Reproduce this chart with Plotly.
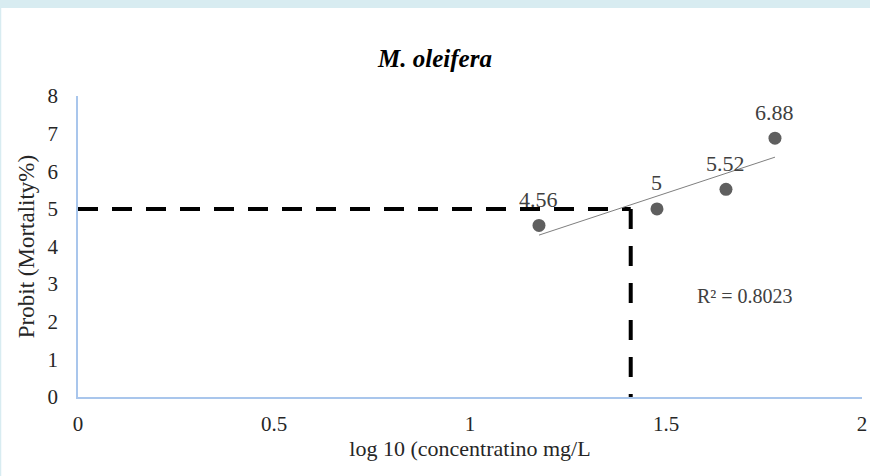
import numpy as np
import plotly.graph_objects as go

# data
log_conc = [1.176, 1.477, 1.653, 1.778]
probit = [4.56, 5.00, 5.52, 6.88]
point_labels = ["4.56", "5", "5.52", "6.88"]
lc50_log = 1.41
probit_50 = 5
r2_text = "R² = 0.8023"
x_ticks = [0, 0.5, 1, 1.5, 2]
x_tick_labels = ["0", "0.5", "1", "1.5", "2"]
y_ticks = [0, 1, 2, 3, 4, 5, 6, 7, 8]

FONT = "Liberation Serif"
W, H = 870, 476
ML, MR, MT, MB = 78, 8, 96, 79
PW, PH = W - ML - MR, H - MT - MB

# linear trendline
slope, intercept = np.polyfit(log_conc, probit, 1)
trend_x = [min(log_conc), max(log_conc)]
trend_y = [slope * v + intercept for v in trend_x]

fig = go.Figure()

# dashed guide lines
fig.add_trace(go.Scatter(x=[0, lc50_log], y=[probit_50, probit_50], mode="lines",
                         line=dict(color="black", width=4, dash="20px,14px"),
                         hoverinfo="skip", showlegend=False))
fig.add_trace(go.Scatter(x=[lc50_log, lc50_log], y=[probit_50, 0], mode="lines",
                         line=dict(color="black", width=4, dash="20px,17px"),
                         hoverinfo="skip", showlegend=False))

# trendline
fig.add_trace(go.Scatter(x=trend_x, y=trend_y, mode="lines",
                         line=dict(color="#7f7f7f", width=1),
                         hoverinfo="skip", showlegend=False))

# points
fig.add_trace(go.Scatter(x=log_conc, y=probit, mode="markers",
                         marker=dict(color="#5f5f5f", size=13),
                         showlegend=False))

# data labels
for xv, yv, lab in zip(log_conc, probit, point_labels):
    fig.add_annotation(x=xv, y=yv, text=lab, showarrow=False,
                       xanchor="center", yanchor="middle", yshift=26,
                       font=dict(family=FONT, size=22, color="#404040"))

# R² annotation
fig.add_annotation(x=1.574, y=2.68, text=r2_text, showarrow=False,
                   xanchor="left", yanchor="middle",
                   font=dict(family=FONT, size=20, color="#404040"))

# frame decorations: top band and left border
px = lambda p: (p - ML) / PW
py = lambda p: (H - MB - p) / PH
fig.add_shape(type="rect", xref="paper", yref="paper",
              x0=px(0), x1=px(W), y0=py(8), y1=py(0),
              fillcolor="#d8ecf1", line=dict(width=0), layer="below")
fig.add_shape(type="line", xref="paper", yref="paper",
              x0=px(0.5), x1=px(0.5), y0=py(8), y1=py(H),
              line=dict(color="#d8ecf1", width=1.5), layer="below")

fig.update_layout(
    width=W, height=H,
    margin=dict(l=ML, r=MR, t=MT, b=MB, autoexpand=False),
    paper_bgcolor="white", plot_bgcolor="white",
    font=dict(family=FONT, size=21, color="#262626"),
    title=dict(text="<b><i>M. oleifera</i></b>", x=0.5, xanchor="center",
               xref="container", y=1 - 58 / H, yref="container", yanchor="middle",
               font=dict(family=FONT, size=25, color="black")),
    xaxis=dict(range=[0, 2], tickvals=x_ticks, ticktext=x_tick_labels,
               showgrid=False, zeroline=False, showline=True,
               linecolor="#a9c6ec", linewidth=1.5, ticks="",
               ticklabelstandoff=7, automargin=False,
               tickfont=dict(family=FONT, size=21, color="#262626"),
               title=dict(text="log 10 (concentratino mg/L", standoff=1,
                          font=dict(family=FONT, size=22, color="#262626"))),
    yaxis=dict(range=[0, 8], tickvals=y_ticks,
               showgrid=False, zeroline=False, showline=True,
               linecolor="#a9c6ec", linewidth=1.5, ticks="",
               ticklabelstandoff=14, automargin=False,
               tickfont=dict(family=FONT, size=21, color="#262626"),
               title=dict(text="Probit (Mortality%)", standoff=6,
                          font=dict(family=FONT, size=23, color="#262626"))),
)

fig.write_html("out.html")
